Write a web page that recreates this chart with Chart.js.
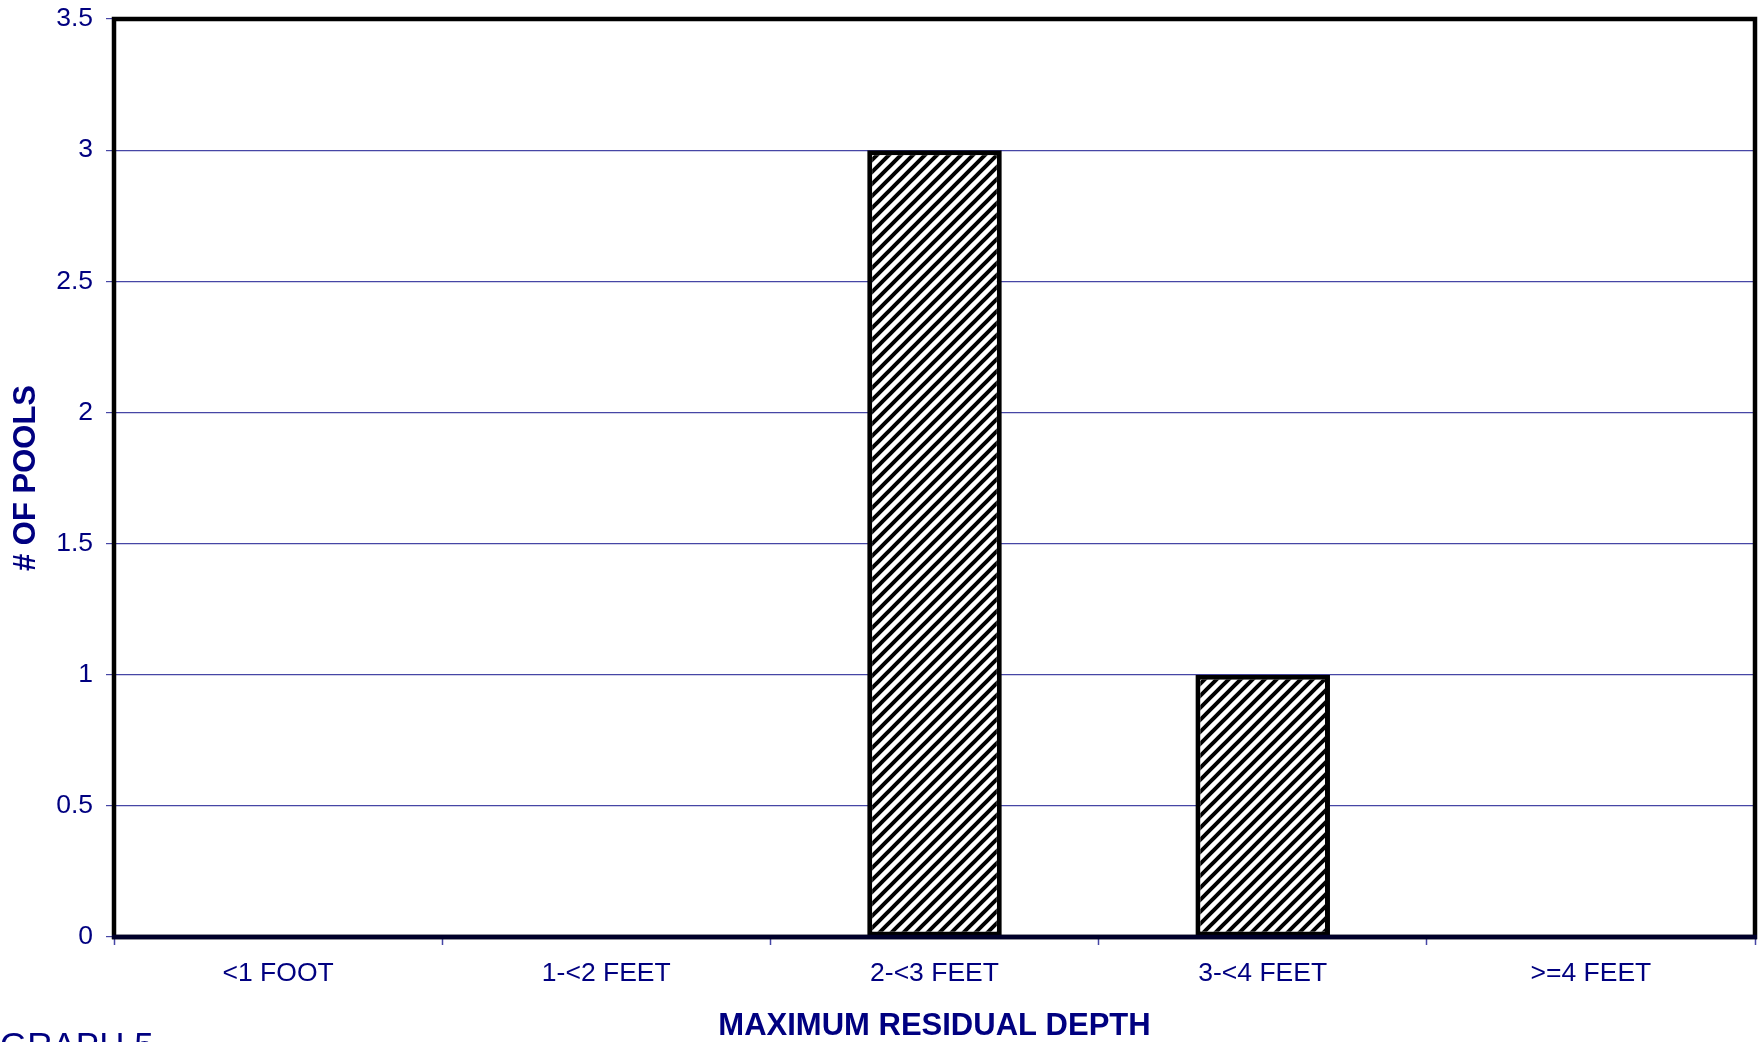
<!DOCTYPE html>
<html>
<head>
<meta charset="utf-8">
<script src="https://cdn.jsdelivr.net/npm/chart.js@4/dist/chart.umd.min.js"></script>
<style>
  html, body { margin: 0; padding: 0; background: #ffffff; }
  #wrap { width: 1762px; height: 1042px; position: relative; }
</style>
</head>
<body>
<div id="wrap"><canvas id="chart" width="1762" height="1042"></canvas></div>
<script>
// Pool counts by maximum residual depth class
const categories = ['<1 FOOT', '1-<2 FEET', '2-<3 FEET', '3-<4 FEET', '>=4 FEET'];
const poolCounts = [0, 0, 3, 1, 0];
const yTickValues = [0, 0.5, 1, 1.5, 2, 2.5, 3, 3.5];
const yTickLabels = ['0', '0.5', '1', '1.5', '2', '2.5', '3', '3.5'];
const xAxisTitle = 'MAXIMUM RESIDUAL DEPTH';
const yAxisTitle = '# OF POOLS';
const footnote = 'GRAPH 5';

const NAVY = '#000080';
const GRID = 'rgb(70,70,165)';
const FONT = '"Liberation Sans", Arial, Helvetica, sans-serif';

// Diagonal hatch fill used for the bars
function makeHatch() {
  const s = 12;
  const c = document.createElement('canvas');
  c.width = s; c.height = s;
  const g = c.getContext('2d');
  g.fillStyle = '#ffffff';
  g.fillRect(0, 0, s, s);
  g.strokeStyle = '#000000';
  g.lineWidth = 4;
  g.lineCap = 'square';
  g.beginPath();
  g.moveTo(-s / 2, s / 2); g.lineTo(s / 2, -s / 2);
  g.moveTo(0, s); g.lineTo(s, 0);
  g.moveTo(s / 2, s * 1.5); g.lineTo(s * 1.5, s / 2);
  g.stroke();
  return g.createPattern(c, 'repeat');
}

// Heavy frame around the plot area plus the footnote
const framePlugin = {
  id: 'plotFrame',
  afterDraw(chart) {
    const { ctx, chartArea: a } = chart;
    ctx.save();
    ctx.strokeStyle = '#000000';
    ctx.lineWidth = 4.5;
    ctx.strokeRect(a.left, a.top, a.right - a.left, a.bottom - a.top);
    ctx.strokeStyle = '#00002a';
    ctx.beginPath();
    ctx.moveTo(a.left - 2, a.bottom);
    ctx.lineTo(a.right + 2, a.bottom);
    ctx.stroke();
    ctx.fillStyle = NAVY;
    ctx.font = '35px ' + FONT;
    ctx.textAlign = 'left';
    ctx.textBaseline = 'alphabetic';
    ctx.fillText(footnote, 0, 1057);
    ctx.restore();
  }
};

const ctx = document.getElementById('chart').getContext('2d');
new Chart(ctx, {
  type: 'bar',
  data: {
    labels: categories,
    datasets: [{
      data: poolCounts,
      backgroundColor: makeHatch(),
      borderColor: '#000000',
      borderWidth: c => (c.raw > 0 ? 5 : 0),
      borderSkipped: false,
      categoryPercentage: 1,
      barPercentage: 0.41
    }]
  },
  options: {
    responsive: false,
    animation: false,
    events: [],
    layout: { padding: { top: 19, right: 7, left: 0, bottom: 0 } },
    plugins: { legend: { display: false }, tooltip: { enabled: false }, title: { display: false } },
    scales: {
      x: {
        offset: true,
        border: { display: false },
        grid: {
          display: true, drawOnChartArea: false, drawTicks: true,
          tickLength: 8, tickColor: GRID, tickWidth: 1.5, offset: true
        },
        ticks: { color: NAVY, font: { family: FONT, size: 26.5 }, padding: 13, maxRotation: 0, autoSkip: false },
        title: {
          display: true, text: xAxisTitle, color: NAVY,
          font: { family: FONT, size: 31, weight: 'bold', lineHeight: 1.2 },
          padding: { top: 0, bottom: -3 }
        },
        afterFit(scale) { scale.height = 105; scale.paddingLeft = 0; scale.paddingRight = 0; }
      },
      y: {
        min: 0,
        max: 3.5,
        border: { display: false },
        afterBuildTicks(scale) { scale.ticks = yTickValues.map(v => ({ value: v })); },
        grid: { color: GRID, lineWidth: 1.2, tickLength: 8, tickColor: GRID, drawTicks: true },
        ticks: {
          color: NAVY, font: { family: FONT, size: 26.5 }, padding: 13,
          callback: (v) => yTickLabels[yTickValues.indexOf(v)]
        },
        title: {
          display: true, text: yAxisTitle, color: NAVY,
          font: { family: FONT, size: 31, weight: 'bold', lineHeight: 1.2 },
          padding: { top: 8, bottom: 0 }
        },
        afterFit(scale) { scale.width = 114; scale.paddingTop = 0; scale.paddingBottom = 0; }
      }
    }
  },
  plugins: [framePlugin]
});
</script>
</body>
</html>
